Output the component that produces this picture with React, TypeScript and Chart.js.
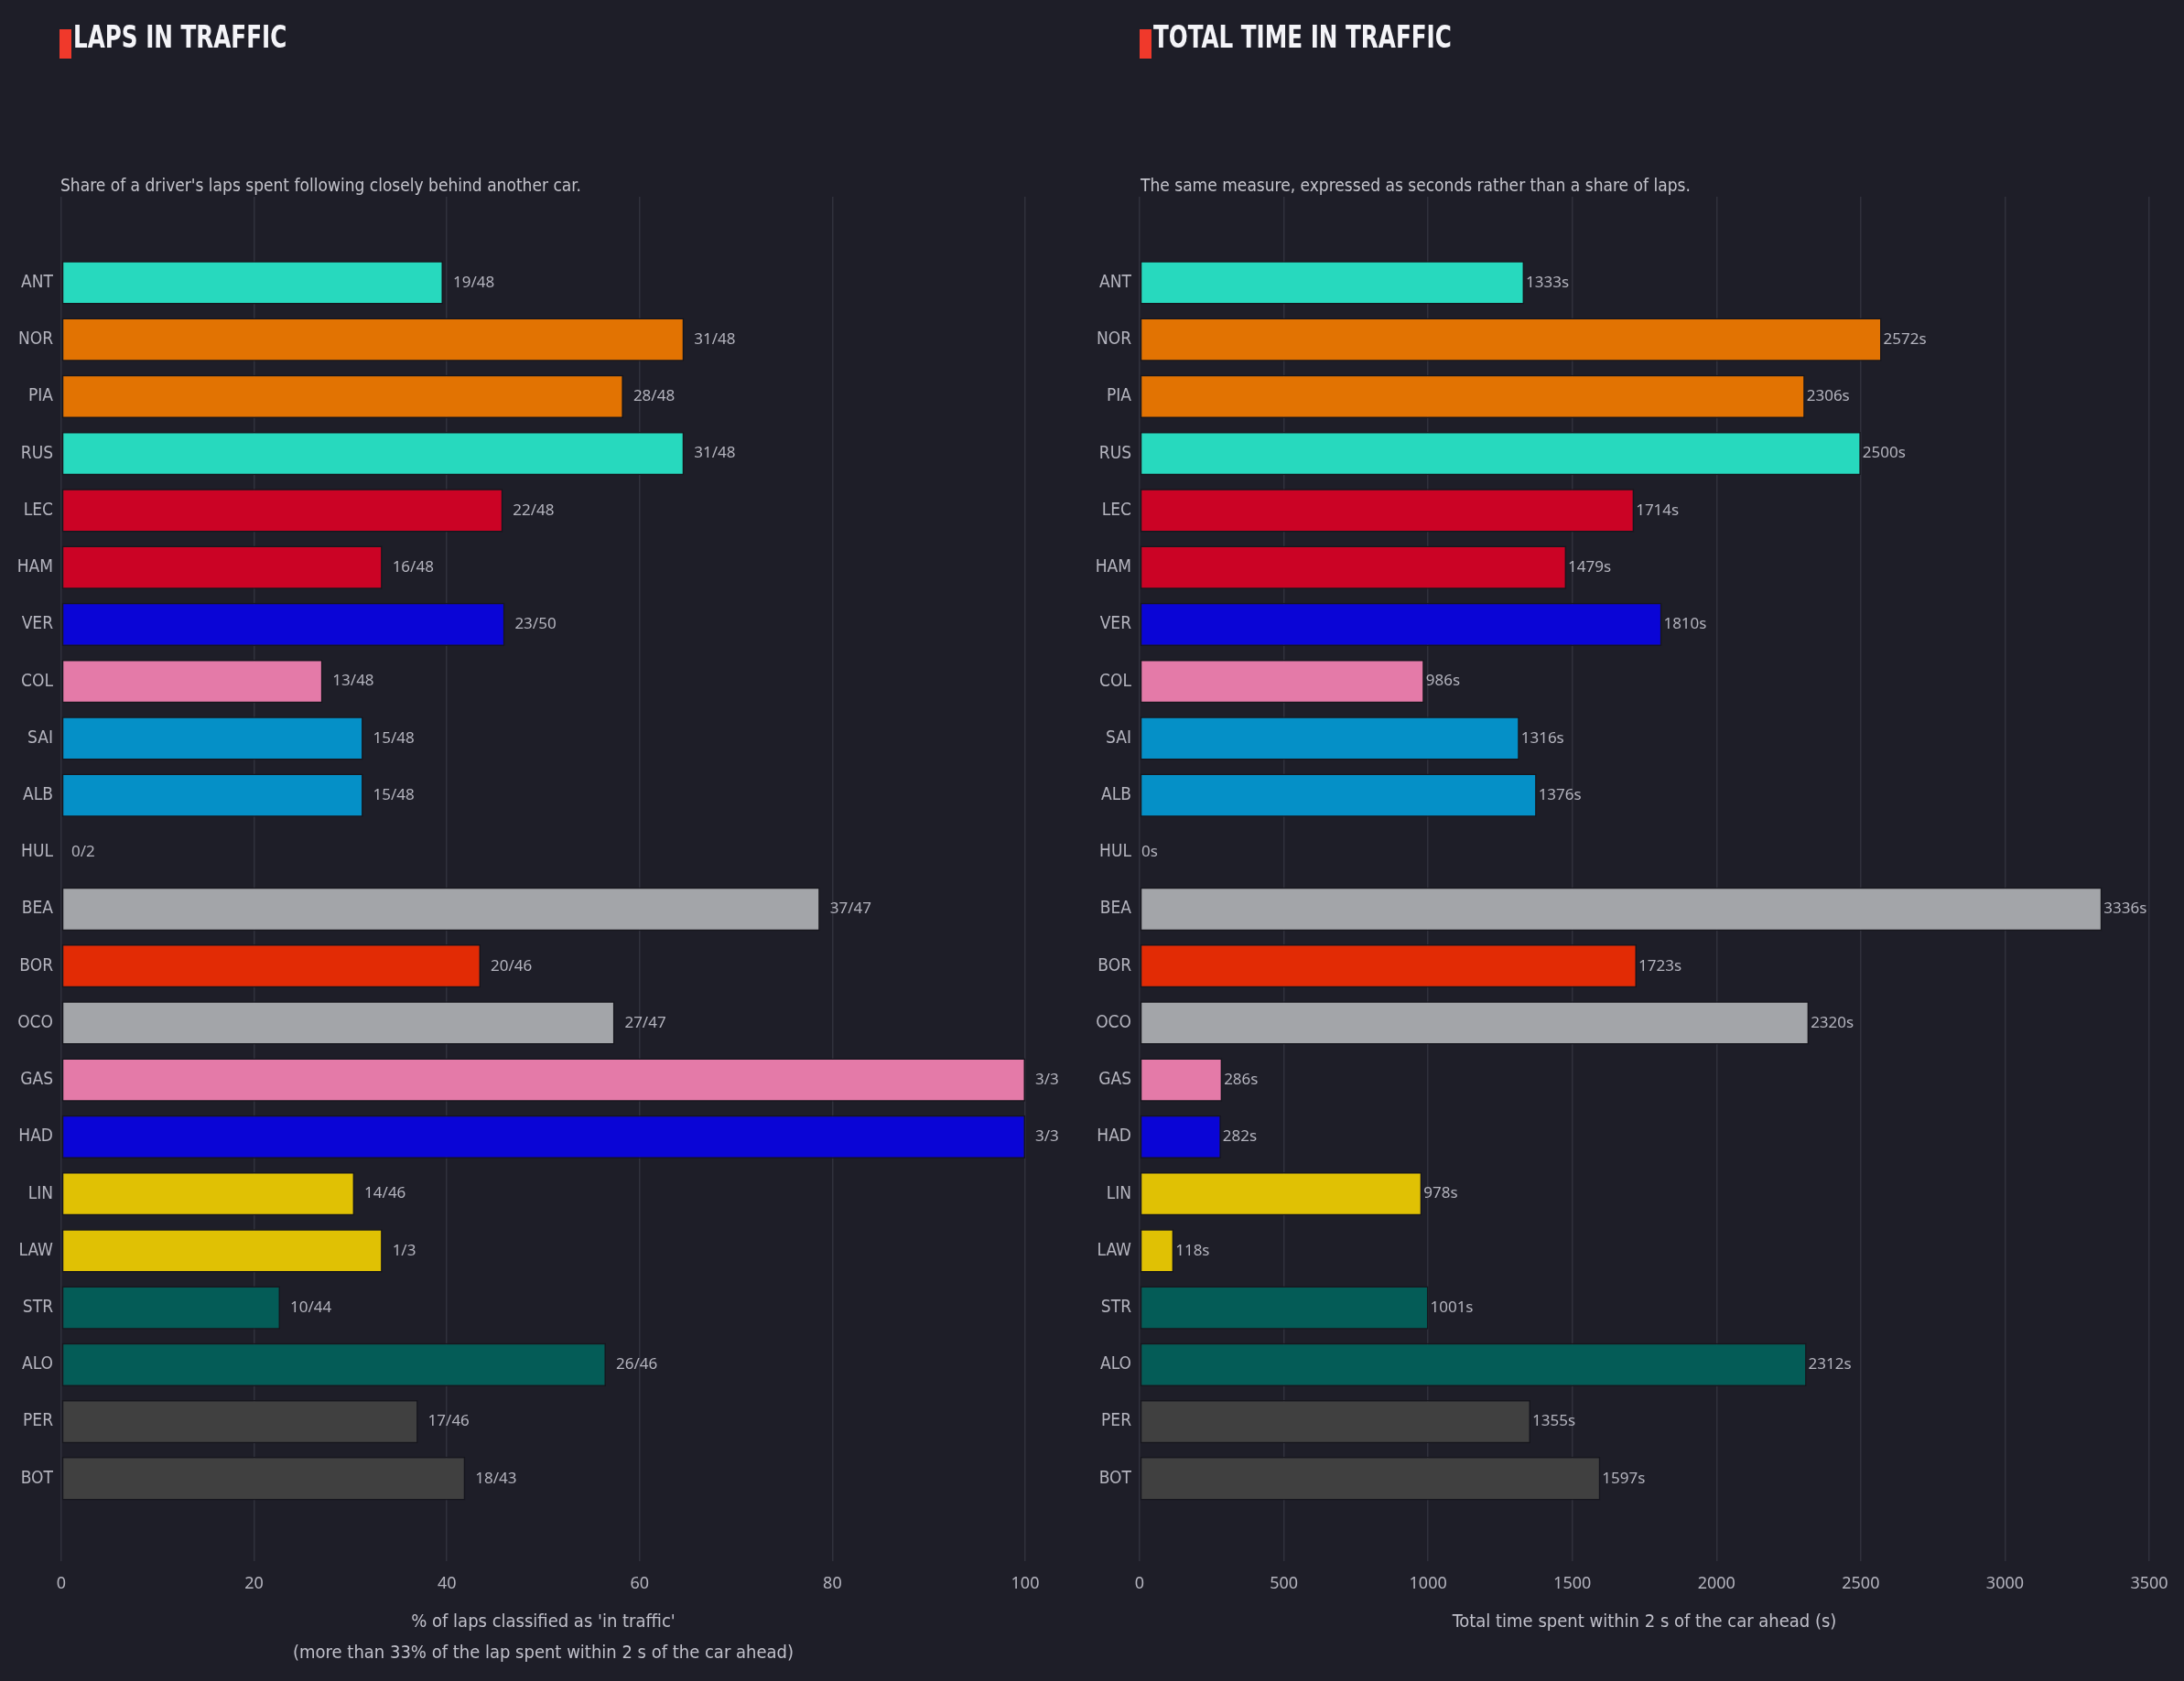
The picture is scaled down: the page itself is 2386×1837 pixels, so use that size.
import React, { useEffect, useRef } from "react";
import { Chart, registerables } from "chart.js";

Chart.register(...registerables);

const drivers = ["ANT","NOR","PIA","RUS","LEC","HAM","VER","COL","SAI","ALB","HUL","BEA","BOR","OCO","GAS","HAD","LIN","LAW","STR","ALO","PER","BOT"];
const lapsInTraffic = [19,31,28,31,22,16,23,13,15,15,0,37,20,27,3,3,14,1,10,26,17,18];
const totalLaps = [48,48,48,48,48,48,50,48,48,48,2,47,46,47,3,3,46,3,44,46,46,43];
const pctInTraffic = [39.6,64.6,58.3,64.6,45.8,33.3,46.0,27.1,31.3,31.3,0,78.7,43.5,57.4,100,100,30.4,33.3,22.7,56.5,37.0,41.9];
const secondsInTraffic = [1333,2572,2306,2500,1714,1479,1810,986,1316,1376,0,3336,1723,2320,286,282,978,118,1001,2312,1355,1597];
const teamColors = ["#27d9be","#e27302","#e27302","#27d9be","#cb0325","#cb0325","#0a05d6","#e47aa8","#0590c7","#0590c7","#9aa0a6","#a3a5a9","#e22b05","#a3a5a9","#e47aa8","#0a05d6","#e0c104","#e0c104","#045c57","#045c57","#404040","#404040"];
const leftTicks = [0,20,40,60,80,100];
const rightTicks = [0,500,1000,1500,2000,2500,3000,3500];

const BG = "#1e1e28";
const NARROW = "'Liberation Sans Narrow', 'DejaVu Sans Condensed', sans-serif";
const NUM = "'Noto Sans', 'Open Sans', sans-serif";
const Y_MIN = -1.51;
const Y_MAX = 22.45;

function makeConfig(values: number[], labels: string[], xMax: number, xTicks: number[], title: string | string[], titlePad: number, labelOffset: number, padRight: number): any {
  const labelPlugin = {
    id: "barLabels",
    afterDatasetsDraw(chart: any) {
      const ctx = chart.ctx;
      const meta = chart.getDatasetMeta(0);
      ctx.save();
      ctx.font = `17px ${NUM}`;
      ctx.fillStyle = "#b4b4be";
      ctx.textAlign = "left";
      ctx.textBaseline = "middle";
      meta.data.forEach((bar: any, i: number) => {
        ctx.fillText(labels[i], bar.x + labelOffset, bar.y);
      });
      ctx.restore();
    },
  };
  return {
    type: "bar",
    data: {
      datasets: [
        {
          data: values.map((v, i) => ({ x: v, y: i })),
          backgroundColor: teamColors,
          borderColor: "#16161d",
          borderWidth: 1.5,
          borderSkipped: false,
          barPercentage: 0.76,
          categoryPercentage: 1,
        },
      ],
    },
    plugins: [labelPlugin],
    options: {
      indexAxis: "y",
      animation: false,
      responsive: false,
      maintainAspectRatio: false,
      layout: { padding: { top: 215, right: padRight, left: 0, bottom: 0 } },
      plugins: { legend: { display: false }, tooltip: { enabled: false }, title: { display: false } },
      scales: {
        x: {
          type: "linear",
          min: 0,
          max: xMax,
          bounds: "data",
          position: "bottom",
          afterFit: (s: any) => { s.height = 131; },
          afterBuildTicks: (s: any) => {
            s.ticks = xTicks.map((v) => ({ value: v }));
            s.min = 0;
            s.max = xMax;
          },
          grid: { color: "#30313c", lineWidth: 1.5, drawTicks: false },
          border: { display: false },
          ticks: {
            color: "#b4b4be",
            font: { family: NUM, size: 18 },
            padding: 14,
            callback: (v: any) => String(v),
          },
          title: {
            display: true,
            text: title,
            color: "#c0c0ca",
            font: { family: NARROW, size: 20, lineHeight: 1.7 },
            padding: { top: 0, bottom: titlePad },
          },
        },
        y: {
          type: "linear",
          reverse: true,
          min: Y_MIN,
          max: Y_MAX,
          bounds: "data",
          offset: false,
          afterFit: (s: any) => { s.width = 67; },
          afterBuildTicks: (s: any) => {
            s.ticks = drivers.map((_, i) => ({ value: i }));
            s.min = Y_MIN;
            s.max = Y_MAX;
          },
          grid: { display: false, drawTicks: false, offset: false },
          border: { display: false },
          ticks: {
            color: "#b4b4be",
            font: { family: NARROW, size: 19 },
            padding: 9,
            autoSkip: false,
            callback: (v: any) => drivers[v] ?? "",
          },
        },
      },
    },
  };
}

function Panel(props: { left: number; width: number; cfg: any }) {
  const ref = useRef<HTMLCanvasElement | null>(null);
  useEffect(() => {
    if (!ref.current) return;
    const chart = new Chart(ref.current, props.cfg);
    return () => chart.destroy();
  }, []);
  return (
    <canvas
      ref={ref}
      width={props.width}
      height={1837}
      style={{ position: "absolute", left: props.left, top: 0, width: props.width, height: 1837 }}
    />
  );
}

function Heading(props: { left: number; title: string; sub: string }) {
  return (
    <>
      <div style={{ position: "absolute", left: props.left, top: 32, width: 13, height: 32, background: "#f0392b" }} />
      <div
        style={{
          position: "absolute",
          left: props.left + 15,
          top: 21,
          fontFamily: NARROW,
          fontWeight: 700,
          fontSize: 33,
          lineHeight: "40px",
          color: "#f4f4f8",
          whiteSpace: "nowrap",
          transform: "scaleX(0.83)",
          transformOrigin: "left center",
        }}
      >
        {props.title}
      </div>
      <div
        style={{
          position: "absolute",
          left: props.left + 1,
          top: 190,
          fontFamily: NARROW,
          fontSize: 19,
          lineHeight: "24px",
          color: "#c4c4cc",
          whiteSpace: "nowrap",
        }}
      >
        {props.sub}
      </div>
    </>
  );
}

export default function App() {
  useEffect(() => {
    document.body.style.margin = "0";
    document.body.style.background = BG;
  }, []);
  const leftLabels = lapsInTraffic.map((n, i) => `${n}/${totalLaps[i]}`);
  const rightLabels = secondsInTraffic.map((s) => `${s}s`);
  const leftCfg = makeConfig(
    pctInTraffic,
    leftLabels,
    100,
    leftTicks,
    ["% of laps classified as 'in traffic'", "(more than 33% of the lap spent within 2 s of the car ahead)"],
    13,
    11,
    58
  );
  const rightCfg = makeConfig(
    secondsInTraffic,
    rightLabels,
    3500,
    rightTicks,
    "Total time spent within 2 s of the car ahead (s)",
    47,
    2,
    38
  );
  return (
    <div style={{ position: "relative", width: 2386, height: 1837, background: BG, overflow: "hidden" }}>
      <Panel left={0} width={1178} cfg={leftCfg} />
      <Panel left={1178} width={1208} cfg={rightCfg} />
      <Heading left={65} title="LAPS IN TRAFFIC" sub="Share of a driver's laps spent following closely behind another car." />
      <Heading left={1245} title="TOTAL TIME IN TRAFFIC" sub="The same measure, expressed as seconds rather than a share of laps." />
    </div>
  );
}
